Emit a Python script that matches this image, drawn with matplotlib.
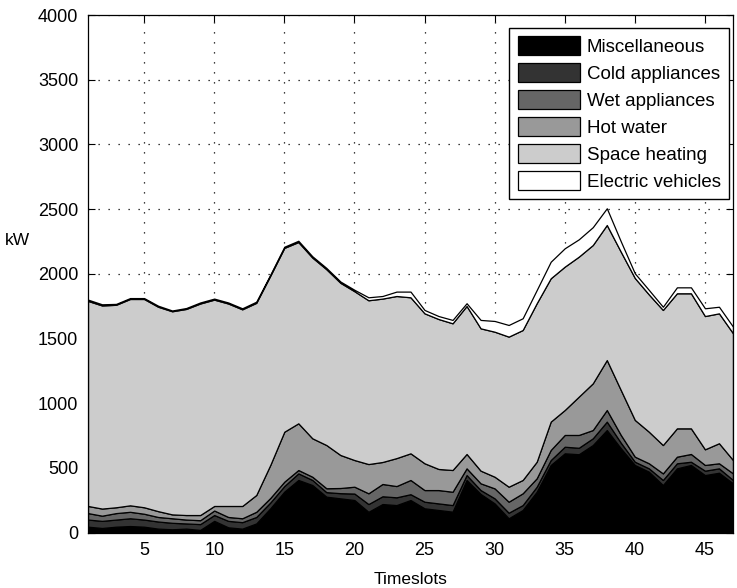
import matplotlib
matplotlib.use("Agg")
import matplotlib.pyplot as plt
import numpy as np

plt.rcParams['font.family'] = ['Liberation Sans', 'DejaVu Sans']

timeslots = list(range(1, 48))
labels = ["Miscellaneous", "Cold appliances", "Wet appliances",
          "Hot water", "Space heating", "Electric vehicles"]
colors = ["#000000", "#333333", "#666666", "#999999", "#cccccc", "#ffffff"]

misc = [45, 35, 45, 50, 45, 30, 25, 30, 20, 90, 40, 30, 70, 187, 316, 406, 367,
        277, 264, 251, 160, 220, 212, 251, 187, 174, 161, 406, 298, 225, 110,
        174, 315, 522, 612, 605, 676, 792, 651, 522, 470, 367, 496, 522, 444,
        462, 380]
cold = [55, 55, 55, 60, 55, 55, 50, 40, 45, 45, 50, 50, 50, 45, 43, 51, 39,
        35, 40, 50, 60, 60, 60, 45, 51, 51, 51, 38, 30, 39, 43, 38, 39, 38, 51,
        50, 52, 65, 43, 25, 26, 39, 39, 25, 34, 34, 26]
wet = [50, 40, 50, 50, 45, 35, 35, 30, 30, 35, 30, 30, 40, 35, 34, 26, 25,
       30, 40, 53, 83, 95, 87, 110, 90, 103, 103, 52, 52, 77, 85, 91, 65, 78,
       91, 99, 64, 90, 60, 39, 39, 51, 51, 60, 44, 39, 51]
hot_water = [55, 55, 45, 50, 50, 45, 30, 35, 40, 35, 85, 95, 130, 255, 386,
             361, 297, 334, 255, 206, 226, 170, 216, 206, 207, 163, 168, 111,
             98, 90, 116, 103, 128, 219, 193, 296, 361, 386, 347, 284, 244,
             219, 219, 198, 121, 155, 103]
space_heating = [1585, 1570, 1565, 1595, 1610, 1580, 1570, 1593, 1635, 1595,
                 1565, 1520, 1485, 1463, 1421, 1401, 1397, 1359, 1331, 1305,
                 1266, 1263, 1253, 1206, 1159, 1159, 1134, 1144, 1100, 1121,
                 1160, 1159, 1225, 1108, 1108, 1082, 1069, 1044, 1069, 1097,
                 1061, 1044, 1044, 1044, 1030, 1004, 980]
electric_vehicles = [10, 9, 7, 7, 7, 8, 6, 7, 8, 8, 8, 8, 9, 8, 9, 10, 10, 10,
                     10, 11, 23, 20, 34, 44, 26, 23, 26, 21, 65, 83, 90, 91,
                     102, 128, 142, 134, 138, 129, 80, 36, 35, 25, 46, 46, 60,
                     51, 51]

x_ticks = [5, 10, 15, 20, 25, 30, 35, 40, 45]
y_ticks = [0, 500, 1000, 1500, 2000, 2500, 3000, 3500, 4000]

fig = plt.figure(figsize=(7.37, 5.88), dpi=100)
ax = fig.add_axes([88 / 737, (588 - 532.5) / 588, 645 / 737, 517.5 / 588])

ax.stackplot(timeslots, misc, cold, wet, hot_water, space_heating,
             electric_vehicles, labels=labels, colors=colors,
             edgecolor="black", linewidth=0.9)

ax.set_xlim(1, 47)
ax.set_ylim(0, 4000)
ax.set_xticks(x_ticks)
ax.set_yticks(y_ticks)
ax.set_axisbelow(True)
ax.grid(True, linestyle=(0, (1, 7)), color="black", linewidth=0.9)
ax.tick_params(direction="in", top=True, right=True, length=5,
               labelsize=13, width=0.8)
ax.tick_params(axis="x", pad=7)
ax.tick_params(axis="y", pad=7)
for s in ax.spines.values():
    s.set_linewidth(0.9)

ax.set_xlabel("Timeslots", fontsize=12.5, labelpad=9)
ax.set_ylabel("kW", fontsize=12.5, rotation=0)
ax.yaxis.set_label_coords(-0.11, 0.55)

leg = ax.legend(loc="upper right", bbox_to_anchor=(0.994, 0.975),
                borderaxespad=0, fontsize=13.5, fancybox=False,
                edgecolor="black", framealpha=1, handlelength=3.3,
                handleheight=1.17, labelspacing=0.38, handletextpad=0.38,
                borderpad=0.45)
leg.get_frame().set_linewidth(1.0)

fig.savefig("out.png", dpi=100)
